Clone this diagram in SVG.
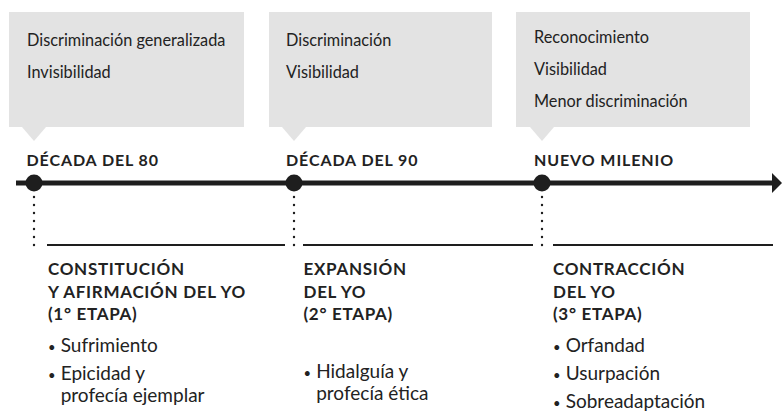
<svg xmlns="http://www.w3.org/2000/svg" width="782" height="412" viewBox="0 0 782 412">
<defs>
<style>
.box{fill:#e3e3e3}
.ct{font-family:Lato,"Noto Sans",sans-serif;font-size:16.3px;fill:#222}
.era{font-family:Lato,"Noto Sans",sans-serif;font-size:16px;font-weight:bold;fill:#222;letter-spacing:0.9px}
.hd{font-family:Lato,"Noto Sans",sans-serif;font-size:17px;font-weight:bold;fill:#222;letter-spacing:0.7px}
.bl{font-family:Lato,"Noto Sans",sans-serif;font-size:19px;fill:#222}
.bu{font-size:13px}
.dot{fill:#1e1e1e}
.dl{stroke:#1e1e1e;stroke-width:2.4;stroke-linecap:round;stroke-dasharray:0 8}
.ul{stroke:#1e1e1e;stroke-width:2}
</style>
<marker id="arr" viewBox="0 0 10 20" refX="0" refY="10" markerWidth="10" markerHeight="20" markerUnits="userSpaceOnUse" orient="auto">
<path d="M0,0 L10,10 L0,20 Z" fill="#1e1e1e"/>
</marker>
</defs>
<rect width="782" height="412" fill="#fff"/>
<g id="connectors">
<line x1="16" y1="183" x2="772" y2="183" stroke="#1e1e1e" stroke-width="5" marker-end="url(#arr)"/>
<line class="dl" x1="34" y1="197" x2="34" y2="246"/>
<line class="dl" x1="294" y1="197" x2="294" y2="246"/>
<line class="dl" x1="542" y1="197" x2="542" y2="246"/>
</g>
<g id="callout1">
<path class="box" d="M9,12 H244 V127 H46 L34,141 L22,127 H9 Z"/>
<text class="ct" x="27" y="46">Discriminación generalizada</text>
<text class="ct" x="27" y="78">Invisibilidad</text>
</g>
<g id="callout2">
<path class="box" d="M269,12 H492 V127 H306 L294,141 L282,127 H269 Z"/>
<text class="ct" x="286" y="46">Discriminación</text>
<text class="ct" x="286" y="78">Visibilidad</text>
</g>
<g id="callout3">
<path class="box" d="M516,12 H750 V127 H554 L542,141 L530,127 H516 Z"/>
<text class="ct" x="534" y="43">Reconocimiento</text>
<text class="ct" x="534" y="75">Visibilidad</text>
<text class="ct" x="534" y="107">Menor discriminación</text>
</g>
<g id="era1">
<circle class="dot" cx="34" cy="183" r="8.5"/>
<text class="era" x="26.5" y="165.5">DÉCADA DEL 80</text>
</g>
<g id="era2">
<circle class="dot" cx="294" cy="183" r="8.5"/>
<text class="era" x="286" y="165.5">DÉCADA DEL 90</text>
</g>
<g id="era3">
<circle class="dot" cx="542" cy="183" r="8.5"/>
<text class="era" x="534" y="165.5">NUEVO MILENIO</text>
</g>
<g id="stage1">
<line class="ul" x1="47" y1="245" x2="285" y2="245"/>
<text class="hd" x="48" y="275">CONSTITUCIÓN</text>
<text class="hd" x="48" y="297.5">Y AFIRMACIÓN DEL YO</text>
<text class="hd" x="48" y="320">(1° ETAPA)</text>
<text class="bl" x="48" y="351.7"><tspan class="bu">•</tspan><tspan x="60.7">Sufrimiento</tspan></text>
<text class="bl" x="48" y="380"><tspan class="bu">•</tspan><tspan x="60.7">Epicidad y</tspan></text>
<text class="bl" x="60.7" y="401.7">profecía ejemplar</text>
</g>
<g id="stage2">
<line class="ul" x1="303" y1="245" x2="533" y2="245"/>
<text class="hd" x="303.5" y="275">EXPANSIÓN</text>
<text class="hd" x="303.5" y="297.5">DEL YO</text>
<text class="hd" x="303.5" y="320">(2° ETAPA)</text>
<text class="bl" x="303.5" y="377.5"><tspan class="bu">•</tspan><tspan x="316.2">Hidalguía y</tspan></text>
<text class="bl" x="316.2" y="400">profecía ética</text>
</g>
<g id="stage3">
<line class="ul" x1="553" y1="245" x2="773" y2="245"/>
<text class="hd" x="553" y="275">CONTRACCIÓN</text>
<text class="hd" x="553" y="297.5">DEL YO</text>
<text class="hd" x="553" y="320">(3° ETAPA)</text>
<text class="bl" x="553" y="351.7"><tspan class="bu">•</tspan><tspan x="565.7">Orfandad</tspan></text>
<text class="bl" x="553" y="380"><tspan class="bu">•</tspan><tspan x="565.7">Usurpación</tspan></text>
<text class="bl" x="553" y="408"><tspan class="bu">•</tspan><tspan x="565.7">Sobreadaptación</tspan></text>
</g>
</svg>
